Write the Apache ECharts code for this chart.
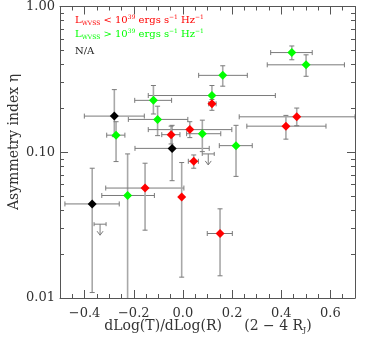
<!DOCTYPE html>
<html><head><meta charset="utf-8">
<script src="https://cdn.jsdelivr.net/npm/echarts@6/dist/echarts.min.js"></script>
<style>html,body{margin:0;padding:0;background:#fff}#c{width:374px;height:339px}</style>
</head><body><div id="c"></div>
<script>
// each row: [x, eta, xLow, xHigh, etaLow, etaHigh]
const redPoints = [
  [0.118, 0.215, 0.105, 0.135, 0.194, 0.230],
  [0.463, 0.175, 0.229, 0.700, 0.152, 0.201],
  [0.419, 0.151, 0.260, 0.582, 0.123, 0.179],
  [0.028, 0.143, -0.141, 0.199, 0.126, 0.162],
  [-0.048, 0.132, -0.086, -0.012, 0.114, 0.151],
  [0.044, 0.0867, 0.022, 0.063, 0.0777, 0.0958],
  [-0.154, 0.0568, -0.314, 0.004, 0.0292, 0.0841],
  [-0.005, 0.0494, -0.005, -0.005, 0.0139, 0.0850],
  [0.151, 0.0277, 0.099, 0.201, 0.0142, 0.0409]
];
const greenPoints = [
  [0.443, 0.483, 0.357, 0.526, 0.431, 0.536],
  [0.501, 0.398, 0.343, 0.657, 0.332, 0.466],
  [0.162, 0.337, 0.064, 0.262, 0.284, 0.392],
  [0.118, 0.245, -0.141, 0.376, 0.221, 0.287],
  [-0.120, 0.227, -0.196, -0.046, 0.183, 0.287],
  [-0.103, 0.168, -0.222, 0.020, 0.130, 0.207],
  [-0.272, 0.131, -0.310, -0.236, 0.0863, 0.162],
  [0.079, 0.134, 0.015, 0.154, 0.101, 0.166],
  [0.216, 0.111, 0.148, 0.282, 0.0683, 0.153],
  [-0.225, 0.0505, -0.330, -0.116, 0.005, 0.0974]
];
const blackPoints = [
  [-0.279, 0.177, -0.401, -0.157, 0.128, 0.269],
  [-0.044, 0.1063, -0.195, 0.107, 0.0638, 0.153],
  [-0.369, 0.0442, -0.480, -0.259, 0.0109, 0.0777]
];
// [x, eta upper limit]
const upperLimits = [[0.103, 0.0974], [-0.337, 0.0321]];
const xMajorTicks = [-0.4, -0.2, 0.0, 0.2, 0.4, 0.6];
const yMajorTicks = [0.01, 0.1, 1];
const yMinorTicks = [0.02,0.03,0.04,0.05,0.06,0.07,0.08,0.09,0.2,0.3,0.4,0.5,0.6,0.7,0.8,0.9];

const FONT = 'DejaVu Serif';
const AX = '#555';

function errRender(params, api) {
  const cs = params.coordSys;
  const x = api.value(0), y = api.value(1);
  const c = api.coord([x, y]);
  const xl = api.coord([api.value(2), y])[0];
  const xh = api.coord([api.value(3), y])[0];
  const yl = api.coord([x, api.value(4)])[1];
  const yh = api.coord([x, api.value(5)])[1];
  const bottom = cs.y + cs.height, top = cs.y;
  const cap = 2.5;
  const vs = {stroke: '#a8a8a8', lineWidth: 1.6};
  const hs = {stroke: '#7a7a7a', lineWidth: 1};
  const ch = [];
  ch.push({type: 'line', shape: {x1: c[0], y1: Math.max(yh, top), x2: c[0], y2: Math.min(yl, bottom)}, style: vs});
  if (yl <= bottom) ch.push({type: 'line', shape: {x1: c[0]-cap, y1: yl, x2: c[0]+cap, y2: yl}, style: hs});
  ch.push({type: 'line', shape: {x1: c[0]-cap, y1: yh, x2: c[0]+cap, y2: yh}, style: hs});
  if (xh - xl > 1) {
    ch.push({type: 'line', shape: {x1: xl, y1: c[1], x2: xh, y2: c[1]}, style: hs});
    ch.push({type: 'line', shape: {x1: xl, y1: c[1]-cap, x2: xl, y2: c[1]+cap}, style: hs});
    ch.push({type: 'line', shape: {x1: xh, y1: c[1]-cap, x2: xh, y2: c[1]+cap}, style: hs});
  }
  return {type: 'group', children: ch};
}
function ulRender(params, api) {
  const c = api.coord([api.value(0), api.value(1)]);
  const s = {stroke: '#7a7a7a', lineWidth: 1, fill: null};
  return {type: 'group', children: [
    {type: 'line', shape: {x1: c[0]-6, y1: c[1], x2: c[0]+6, y2: c[1]}, style: s},
    {type: 'line', shape: {x1: c[0]-6, y1: c[1]-2, x2: c[0]-6, y2: c[1]+2}, style: s},
    {type: 'line', shape: {x1: c[0]+6, y1: c[1]-2, x2: c[0]+6, y2: c[1]+2}, style: s},
    {type: 'line', shape: {x1: c[0], y1: c[1], x2: c[0], y2: c[1]+11}, style: s},
    {type: 'polyline', shape: {points: [[c[0]-3, c[1]+7], [c[0], c[1]+11], [c[0]+3, c[1]+7]]}, style: s}
  ]};
}

const xBase = {type: 'value', min: -0.5, max: 0.7, splitLine: {show: false}};
const yBase = {type: 'log', logBase: 10, min: 0.01, max: 1, splitLine: {show: false}};
const fmtX = v => (v < 0 ? '\u2212' : '') + Math.abs(v).toFixed(1);
const line = show => ({show: show, onZero: false, lineStyle: {color: AX, width: 1}});

function legendRich(col) {
  return {
    a: {fontFamily: FONT, fontSize: 10, fill: col, lineHeight: 12, verticalAlign: 'middle'},
    s: {fontFamily: FONT, fontSize: 6, fill: col, lineHeight: 6, verticalAlign: 'bottom'},
    p: {fontFamily: FONT, fontSize: 6, fill: col, lineHeight: 6, verticalAlign: 'top'}
  };
}
const legendText = op => '{a|L}{s|WVSS}{a| ' + op + ' 10}{p|39}{a| ergs s}{p|\u22121}{a| Hz}{p|\u22121}';

const option = {
  animation: false,
  grid: {left: 60, right: 19, top: 4, bottom: 41, containLabel: false},
  xAxis: [
    Object.assign({}, xBase, {position: 'bottom', interval: 0.05, axisLine: line(true),
      axisTick: {show: true, inside: true, length: 4, lineStyle: {color: AX}},
      axisLabel: {show: false}}),
    Object.assign({}, xBase, {position: 'bottom', axisLine: line(false),
      axisTick: {show: true, inside: true, length: 8, customValues: xMajorTicks, lineStyle: {color: AX}},
      axisLabel: {show: true, customValues: xMajorTicks, formatter: fmtX, margin: 9,
        fontFamily: FONT, fontSize: 13, color: '#333'}}),
    Object.assign({}, xBase, {position: 'top', interval: 0.05, axisLine: line(true),
      axisTick: {show: true, inside: true, length: 4, lineStyle: {color: AX}},
      axisLabel: {show: false}}),
    Object.assign({}, xBase, {position: 'top', axisLine: line(false),
      axisTick: {show: true, inside: true, length: 8, customValues: xMajorTicks, lineStyle: {color: AX}},
      axisLabel: {show: false}})
  ],
  yAxis: [
    Object.assign({}, yBase, {position: 'left', axisLine: line(true),
      axisTick: {show: true, inside: true, length: 8, customValues: yMajorTicks, lineStyle: {color: AX}},
      axisLabel: {show: true, customValues: yMajorTicks, formatter: v => Number(v).toFixed(2), margin: 5,
        fontFamily: FONT, fontSize: 13, color: '#333'}}),
    Object.assign({}, yBase, {position: 'left', axisLine: line(false),
      axisTick: {show: true, inside: true, length: 4, customValues: yMinorTicks, lineStyle: {color: AX}},
      axisLabel: {show: false}}),
    Object.assign({}, yBase, {position: 'right', axisLine: line(true),
      axisTick: {show: true, inside: true, length: 8, customValues: yMajorTicks, lineStyle: {color: AX}},
      axisLabel: {show: false}}),
    Object.assign({}, yBase, {position: 'right', axisLine: line(false),
      axisTick: {show: true, inside: true, length: 4, customValues: yMinorTicks, lineStyle: {color: AX}},
      axisLabel: {show: false}})
  ],
  series: [
    {type: 'custom', renderItem: errRender, data: blackPoints, z: 1, clip: true},
    {type: 'custom', renderItem: errRender, data: greenPoints, z: 1, clip: true},
    {type: 'custom', renderItem: errRender, data: redPoints, z: 1, clip: true},
    {type: 'custom', renderItem: ulRender, data: upperLimits, z: 1},
    {type: 'scatter', data: blackPoints.map(p => [p[0], p[1]]), symbol: 'diamond', symbolSize: 9,
      itemStyle: {color: '#000', opacity: 1}, z: 3},
    {type: 'scatter', data: greenPoints.map(p => [p[0], p[1]]), symbol: 'diamond', symbolSize: 9,
      itemStyle: {color: '#00ff00', opacity: 1}, z: 3},
    {type: 'scatter', data: redPoints.map(p => [p[0], p[1]]), symbol: 'diamond', symbolSize: 9,
      itemStyle: {color: '#ff0000', opacity: 1}, z: 3}
  ],
  graphic: [
    {type: 'text', left: 75, top: 14, z: 10, style: {text: legendText('<'), rich: legendRich('#ff0000')}},
    {type: 'text', left: 75, top: 28, z: 10, style: {text: legendText('>'), rich: legendRich('#00ff00')}},
    {type: 'text', left: 75, top: 46, z: 10, style: {
      text: 'N/A', fill: '#222', fontFamily: FONT, fontSize: 10}},
    {type: 'text', x: 14, y: 142, rotation: Math.PI / 2, z: 10, style: {
      text: 'Asymmetry index \u03b7', fill: '#333', fontFamily: FONT, fontSize: 14,
      align: 'center', verticalAlign: 'middle'}},
    {type: 'text', x: 208, y: 326, z: 10, style: {
      text: '{a|dLog(T)/dLog(R)     (2 \u2212 4 R}{s|J}{a|)}',
      align: 'center', verticalAlign: 'middle', rich: {
        a: {fontFamily: FONT, fontSize: 14, fill: '#333'},
        s: {fontFamily: FONT, fontSize: 8, fill: '#333', padding: [8, 0, 0, 0]}}}}
  ]
};
const chart = echarts.init(document.getElementById('c'), null, {renderer: 'canvas'});
chart.setOption(option);
</script>
</body></html>
